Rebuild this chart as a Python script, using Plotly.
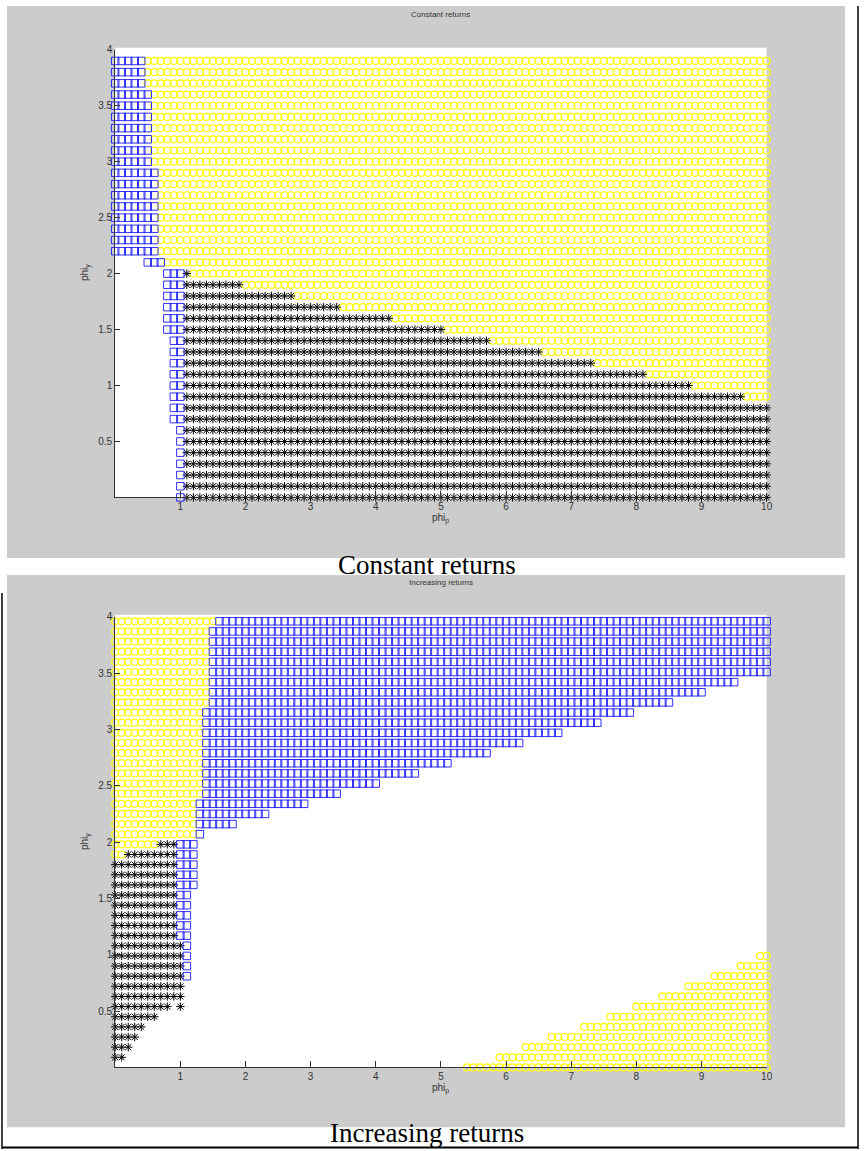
import plotly.graph_objects as go

W, H = 867, 1151
STEP = 0.1

# ---------------- Constant returns (top panel) ----------------
# one row per phi_y level (top to bottom); x-ranges of each marker class along phi_p
cr_y = [3.9, 3.8, 3.7, 3.6, 3.5, 3.4, 3.3, 3.2, 3.1, 3.0,
        2.9, 2.8, 2.7, 2.6, 2.5, 2.4, 2.3, 2.2, 2.1, 2.0,
        1.9, 1.8, 1.7, 1.6, 1.5, 1.4, 1.3, 1.2, 1.1, 1.0,
        0.9, 0.8, 0.7, 0.6, 0.5, 0.4, 0.3, 0.2, 0.1, 0.0]
cr_blue_lo = [0.0] * 18 + [0.5] + [0.8] * 6 + [0.9] * 8 + [1.0] * 7
cr_blue_hi = [0.4] * 3 + [0.5] * 7 + [0.6] * 8 + [0.7] + [1.0] * 21
cr_black_lo = [None] * 19 + [1.1] * 21
cr_black_hi = [None] * 19 + [1.1, 1.9, 2.7, 3.4, 4.2, 5.0, 5.7, 6.5, 7.3, 8.1, 8.8, 9.6] + [10.0] * 9
cr_yellow_lo = ([0.5] * 3 + [0.6] * 7 + [0.7] * 8 + [0.8]
                + [1.2, 2.0, 2.8, 3.5, 4.3, 5.1, 5.8, 6.6, 7.4, 8.2, 8.9, 9.7] + [None] * 9)

# ---------------- Increasing returns (bottom panel) ----------------
ir_y = [3.96, 3.87, 3.78, 3.69, 3.60, 3.51, 3.42, 3.33, 3.24, 3.15,
        3.06, 2.97, 2.88, 2.79, 2.70, 2.61, 2.52, 2.43, 2.34, 2.25,
        2.16, 2.07, 1.98, 1.89, 1.80, 1.71, 1.62, 1.53, 1.44, 1.35,
        1.26, 1.17, 1.08, 0.99, 0.90, 0.81, 0.72, 0.63, 0.54, 0.45,
        0.36, 0.27, 0.18, 0.09, 0.00]
ir_yl_hi = [1.5] + [1.4] * 8 + [1.3] * 9 + [1.2] * 4 + [0.6, 0.1] + [None] * 21
ir_black_lo = [None] * 22 + [0.7, 0.2] + [0.0] * 20 + [None]
ir_black_hi = ([None] * 22 + [0.9, 0.9] + [0.9] * 8 + [1.0] * 6
               + [0.8, 0.6, 0.4, 0.3, 0.2, 0.1] + [None])
ir_black_extra_x = [1.0]
ir_black_extra_y = [0.54]
ir_blue_lo = [1.6] + [1.5] * 8 + [1.4] * 9 + [1.3] * 4 + [1.0] * 10 + [1.1] * 4 + [None] * 9
ir_blue_hi = ([10.0] * 6 + [9.5, 9.0, 8.5, 7.9, 7.4, 6.8, 6.2, 5.7, 5.1, 4.6, 4.0, 3.4,
               2.9, 2.3, 1.8, 1.3] + [1.2] * 5 + [1.1] * 5 + [1.1] * 4 + [None] * 9)
ir_yr_lo = [None] * 33 + [9.9, 9.6, 9.2, 8.8, 8.4, 8.0, 7.6, 7.2, 6.7, 6.3, 5.9, 5.4]

x_ticks = [1, 2, 3, 4, 5, 6, 7, 8, 9, 10]
y_ticks = [0.5, 1, 1.5, 2, 2.5, 3, 3.5, 4]
y_ticktext = ["0.5", "1", "1.5", "2", "2.5", "3", "3.5", "4"]


def span(lo, hi):
    if lo is None or hi is None:
        return []
    n = int(round((hi - lo) / STEP)) + 1
    return [round(lo + i * STEP, 3) for i in range(n)]


def expand(rows, los, his):
    xs, ys = [], []
    for y, lo, hi in zip(rows, los, his):
        for x in span(lo, hi):
            xs.append(x)
            ys.append(y)
    return xs, ys


def px_x(p):
    return p / W


def px_y(p):
    return 1 - p / H


fig = go.Figure()

YEL = dict(symbol="circle-open", size=7, color="#ffff00", line=dict(width=1.2, color="#ffff00"))
BLK = dict(symbol="asterisk-open", size=7, color="black", line=dict(width=1, color="black"))
BLU = dict(symbol="square-open", size=7.5, color="#1a1aff", line=dict(width=0.9, color="#1a1aff"))

# top panel
yx, yy = expand(cr_y, cr_yellow_lo, [10.0 if v is not None else None for v in cr_yellow_lo])
kx, ky = expand(cr_y, cr_black_lo, cr_black_hi)
bx, by = expand(cr_y, cr_blue_lo, cr_blue_hi)
for xs, ys, mk in [(yx, yy, YEL), (kx, ky, BLK), (bx, by, BLU)]:
    fig.add_trace(go.Scatter(x=xs, y=ys, mode="markers", marker=mk, cliponaxis=False,
                             xaxis="x", yaxis="y", hoverinfo="skip"))

# bottom panel
ylx, yly = expand(ir_y, [0.0 if v is not None else None for v in ir_yl_hi], ir_yl_hi)
yrx, yry = expand(ir_y, ir_yr_lo, [10.0 if v is not None else None for v in ir_yr_lo])
kx2, ky2 = expand(ir_y, ir_black_lo, ir_black_hi)
kx2 += ir_black_extra_x
ky2 += ir_black_extra_y
bx2, by2 = expand(ir_y, ir_blue_lo, ir_blue_hi)
for xs, ys, mk in [(ylx + yrx, yly + yry, YEL), (kx2, ky2, BLK), (bx2, by2, BLU)]:
    fig.add_trace(go.Scatter(x=xs, y=ys, mode="markers", marker=mk, cliponaxis=False,
                             xaxis="x2", yaxis="y2", hoverinfo="skip"))

# plot area pixel boxes
X0, X1 = 116, 772
P1_TOP, P1_BOT = 44, 494
P2_TOP, P2_BOT = 614, 1067

tickfont = dict(family="Liberation Sans, Arial, sans-serif", size=10, color="#333333")
common_x = dict(range=[0, 10], tickvals=x_ticks, ticks="inside", ticklen=6, tickcolor="#333333",
                showline=True, linecolor="#333333", linewidth=1, showgrid=False, zeroline=False,
                tickfont=tickfont, fixedrange=True)
common_y = dict(range=[0, 4], tickvals=y_ticks, ticktext=y_ticktext, ticks="inside", ticklen=5,
                tickcolor="#333333", showline=True, linecolor="#333333", linewidth=1,
                showgrid=False, zeroline=False, tickfont=tickfont, fixedrange=True)

fig.update_layout(
    width=W, height=H, margin=dict(l=0, r=0, t=0, b=0),
    paper_bgcolor="white", plot_bgcolor="white", showlegend=False,
    xaxis=dict(common_x, domain=[px_x(X0), px_x(X1)], anchor="y"),
    yaxis=dict(common_y, domain=[px_y(P1_BOT), px_y(P1_TOP)], anchor="x"),
    xaxis2=dict(common_x, domain=[px_x(X0), px_x(X1)], anchor="y2"),
    yaxis2=dict(common_y, domain=[px_y(P2_BOT), px_y(P2_TOP)], anchor="x2"),
)

GREY = "#cccccc"
shapes = []


def rect(x0, y0, x1, y1, color, layer="below"):
    return dict(type="rect", xref="paper", yref="paper", x0=px_x(x0), x1=px_x(x1),
                y0=px_y(y1), y1=px_y(y0), fillcolor=color, line=dict(width=0), layer=layer)


def line(x0, y0, x1, y1, width=1.5):
    return dict(type="line", xref="paper", yref="paper", x0=px_x(x0), x1=px_x(x1),
                y0=px_y(y0), y1=px_y(y1), line=dict(color="black", width=width), layer="above")


shapes.append(rect(7, 0, 851, 555, GREY))
shapes.append(rect(7, 572, 851, 1127, GREY))
shapes.append(rect(X0, 42, X1, P1_BOT, "white"))
shapes.append(rect(X0, 612, X1, P2_BOT, "white"))
shapes.append(line(864, 0, 864, 1149))
shapes.append(line(2, 1147.5, 864, 1147.5, width=2))
shapes.append(line(2, 590, 2, 1149))
fig.update_layout(shapes=shapes)

ann = []


def text(t, x, y, size, family="Liberation Sans, Arial, sans-serif", color="#333333", angle=0):
    ann.append(dict(text=t, x=px_x(x), y=px_y(y), xref="paper", yref="paper", showarrow=False,
                    xanchor="center", yanchor="middle", textangle=angle,
                    font=dict(size=size, family=family, color=color)))


text("Constant returns", 444, 9, 8)
text("Increasing returns", 444, 580, 8)
text("phi<sub>p</sub>", 444, 515, 10)
text("phi<sub>p</sub>", 444, 1088, 10)
text("phi<sub>y</sub>", 86, 268, 10, angle=-90)
text("phi<sub>y</sub>", 86, 840, 10, angle=-90)
serif = "Liberation Serif, Times New Roman, serif"
text("Constant returns", 430, 562, 27, family=serif, color="black")
text("Increasing returns", 430, 1133, 27, family=serif, color="black")
fig.update_layout(annotations=ann)

fig.write_html("out.html", config={"displayModeBar": False, "staticPlot": True},
               post_script="document.body.style.margin='0';document.body.style.overflow='hidden';")
